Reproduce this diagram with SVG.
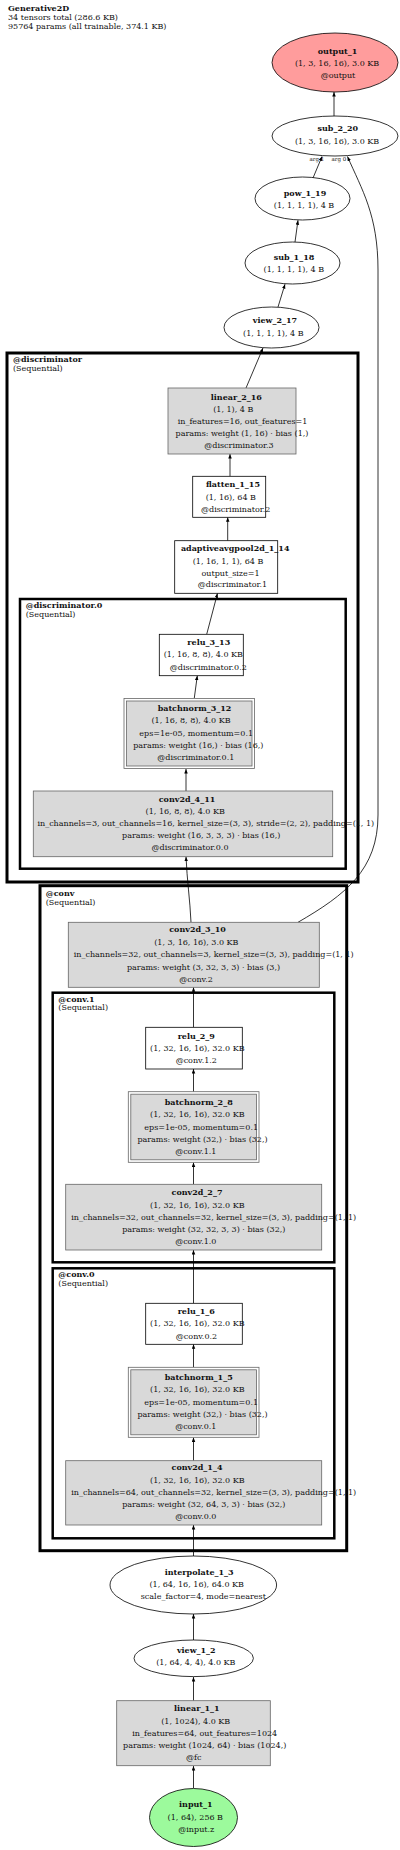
<svg xmlns="http://www.w3.org/2000/svg" width="400" height="1850" viewBox="0 0 400 1850">
<defs>
<marker id="ah" markerWidth="5" markerHeight="4" refX="4.5" refY="1.75" orient="auto" markerUnits="userSpaceOnUse">
<path d="M0,0 L4.5,1.75 L0,3.5 z" fill="#000"/>
</marker>
<style>
text{font-family:"DejaVu Serif","Liberation Serif",serif;font-size:8px;fill:#111;text-anchor:middle}
.b{font-weight:bold}
.l{text-anchor:start}
.arg{font-size:5.5px;text-anchor:start}
.clu{fill:none;stroke:#000}
.g{fill:#d9d9d9;stroke:#666;stroke-width:0.8}
.w{fill:#fff;stroke:#000;stroke-width:0.8}
.e{fill:#fff;stroke:#000;stroke-width:0.8}
.c path,.c line{stroke:#000;stroke-width:0.8;fill:none;marker-end:url(#ah)}
</style>
</defs>
<rect width="400" height="1850" fill="#fff"/>
<g id="title">
<text class="b l" x="8" y="11">Generative2D</text>
<text class="l" x="8" y="20">34 tensors total (286.6 KB)</text>
<text class="l" x="8" y="29">95764 params (all trainable, 374.1 KB)</text>
</g>
<g id="cluster_discriminator">
<rect class="clu" x="7" y="353" width="351" height="529" stroke-width="3"/>
<text class="b l" x="13" y="362">@discriminator</text>
<text class="l" x="13" y="370.5">(Sequential)</text>
</g>
<g id="cluster_discriminator0">
<rect class="clu" x="20" y="599" width="325.7" height="269.7" stroke-width="2.5"/>
<text class="b l" x="25.7" y="608">@discriminator.0</text>
<text class="l" x="25.7" y="617">(Sequential)</text>
</g>
<g id="cluster_conv">
<rect class="clu" x="40" y="885.7" width="306.7" height="665" stroke-width="3"/>
<text class="b l" x="45.7" y="895.5">@conv</text>
<text class="l" x="45.7" y="904.5">(Sequential)</text>
</g>
<g id="cluster_conv1">
<rect class="clu" x="52.7" y="992.7" width="281.6" height="269.6" stroke-width="2.5"/>
<text class="b l" x="58.3" y="1001.5">@conv.1</text>
<text class="l" x="58.3" y="1010">(Sequential)</text>
</g>
<g id="cluster_conv0">
<rect class="clu" x="52.7" y="1268.3" width="281.6" height="270" stroke-width="2.5"/>
<text class="b l" x="58.3" y="1276.5">@conv.0</text>
<text class="l" x="58.3" y="1285.5">(Sequential)</text>
</g>
<g id="edges" class="c">
<line x1="193.5" y1="1788" x2="193.5" y2="1766"/>
<line x1="193.5" y1="1700.7" x2="193.5" y2="1677"/>
<line x1="193.5" y1="1640" x2="193.5" y2="1614"/>
<line x1="193.5" y1="1556" x2="193.5" y2="1525"/>
<line x1="193.5" y1="1460.7" x2="193.5" y2="1437.5"/>
<line x1="193.5" y1="1367.3" x2="193.5" y2="1344.3"/>
<line x1="193.5" y1="1303.3" x2="193.5" y2="1250"/>
<line x1="193.5" y1="1184.3" x2="193.5" y2="1162.5"/>
<line x1="193.5" y1="1091.7" x2="193.5" y2="1069"/>
<line x1="193.5" y1="1027.3" x2="193.5" y2="987.3"/>
<path d="M191,922.3 C190,900 187,880 186,856.7"/>
<line x1="186" y1="791" x2="186" y2="769"/>
<line x1="194.3" y1="698" x2="197.3" y2="675.7"/>
<line x1="206.7" y1="634.3" x2="217.5" y2="593.3"/>
<line x1="227.7" y1="540.7" x2="227.7" y2="517.3"/>
<line x1="230" y1="476.3" x2="230" y2="454"/>
<line x1="246" y1="388" x2="263" y2="348"/>
<line x1="278" y1="307" x2="285" y2="284.2"/>
<line x1="295" y1="242" x2="298" y2="220.2"/>
<line x1="313" y1="178" x2="322" y2="156.5"/>
<path d="M298,922.3 C345,895 378,870 378,815 L378,270 C378,215 362,190 347.5,156.5"/>
<line x1="334" y1="116" x2="334" y2="92"/>
<text class="arg" x="309.5" y="161">arg 1</text>
<text class="arg" x="331.5" y="161">arg 0</text>
</g>
<g id="output_1">
<ellipse cx="335" cy="62.5" rx="63" ry="29.5" fill="#ff9c9c" stroke="#000" stroke-width="0.8"/>
<text class="b" x="337.5" y="53.5">output_1</text>
<text x="337" y="66">(1, 3, 16, 16), 3.0 KB</text>
<text x="338" y="78">@output</text>
</g>
<g id="sub_2_20">
<ellipse class="e" cx="335" cy="136" rx="63" ry="20"/>
<text class="b" x="337.8" y="131">sub_2_20</text>
<text x="337" y="144">(1, 3, 16, 16), 3.0 KB</text>
</g>
<g id="pow_1_19">
<ellipse class="e" cx="302.5" cy="198.5" rx="47.5" ry="21.5"/>
<text class="b" x="305" y="196">pow_1_19</text>
<text x="304" y="208">(1, 1, 1, 1), 4 B</text>
</g>
<g id="sub_1_18">
<ellipse class="e" cx="292.5" cy="263" rx="47.5" ry="21"/>
<text class="b" x="294" y="259.5">sub_1_18</text>
<text x="293.8" y="272">(1, 1, 1, 1), 4 B</text>
</g>
<g id="view_2_17">
<ellipse class="e" cx="271.5" cy="327.5" rx="47.5" ry="20.5"/>
<text class="b" x="275" y="323">view_2_17</text>
<text x="273.3" y="336">(1, 1, 1, 1), 4 B</text>
</g>
<g id="linear_2_16">
<rect class="g" x="168" y="388" width="128" height="66"/>
<text class="b" x="236.3" y="399.5">linear_2_16</text>
<text x="233.3" y="412">(1, 1), 4 B</text>
<text x="242.5" y="424">in_features=16, out_features=1</text>
<text x="242" y="435.5">params: weight (1, 16) · bias (1,)</text>
<text x="239" y="448">@discriminator.3</text>
</g>
<g id="flatten_1_15">
<rect class="w" x="192.7" y="476.3" width="73" height="41"/>
<text class="b" x="233" y="487">flatten_1_15</text>
<text x="230.8" y="499.5">(1, 16), 64 B</text>
<text x="235.7" y="512">@discriminator.2</text>
</g>
<g id="adaptiveavgpool2d_1_14">
<rect class="w" x="174.7" y="540.7" width="103" height="52.6"/>
<text class="b" x="235.2" y="550.5">adaptiveavgpool2d_1_14</text>
<text x="228" y="563.5">(1, 16, 1, 1), 64 B</text>
<text x="230.5" y="575.5">output_size=1</text>
<text x="232.5" y="587">@discriminator.1</text>
</g>
<g id="relu_3_13">
<rect class="w" x="159.3" y="634.3" width="84" height="41.4"/>
<text class="b" x="208.8" y="644.5">relu_3_13</text>
<text x="203.3" y="657">(1, 16, 8, 8), 4.0 KB</text>
<text x="208.3" y="669.5">@discriminator.0.2</text>
</g>
<g id="batchnorm_3_12">
<rect x="124" y="698.5" width="130.5" height="70" fill="#fff" stroke="#666" stroke-width="0.8"/>
<rect class="g" x="126.5" y="701" width="125.5" height="65"/>
<text class="b" x="194.5" y="710.5">batchnorm_3_12</text>
<text x="191" y="723">(1, 16, 8, 8), 4.0 KB</text>
<text x="196.2" y="735.5">eps=1e-05, momentum=0.1</text>
<text x="198.3" y="748">params: weight (16,) · bias (16,)</text>
<text x="195.8" y="759.5">@discriminator.0.1</text>
</g>
<g id="conv2d_4_11">
<rect class="g" x="33.3" y="791" width="299.4" height="65.7"/>
<text class="b" x="187" y="802">conv2d_4_11</text>
<text x="185.2" y="814">(1, 16, 8, 8), 4.0 KB</text>
<text x="205.8" y="826">in_channels=3, out_channels=16, kernel_size=(3, 3), stride=(2, 2), padding=(1, 1)</text>
<text x="201.2" y="838">params: weight (16, 3, 3, 3) · bias (16,)</text>
<text x="190" y="850">@discriminator.0.0</text>
</g>
<g id="conv2d_3_10">
<rect class="g" x="68.3" y="922.3" width="251" height="65"/>
<text class="b" x="197.5" y="932">conv2d_3_10</text>
<text x="196.3" y="945">(1, 3, 16, 16), 3.0 KB</text>
<text x="213.7" y="957">in_channels=32, out_channels=3, kernel_size=(3, 3), padding=(1, 1)</text>
<text x="203.5" y="969.5">params: weight (3, 32, 3, 3) · bias (3,)</text>
<text x="196" y="982">@conv.2</text>
</g>
<g id="relu_2_9">
<rect class="w" x="145.7" y="1027.3" width="96.6" height="41.7"/>
<text class="b" x="196.3" y="1038.5">relu_2_9</text>
<text x="197.3" y="1051">(1, 32, 16, 16), 32.0 KB</text>
<text x="196.3" y="1063">@conv.1.2</text>
</g>
<g id="batchnorm_2_8">
<rect x="128.3" y="1091.7" width="130.7" height="70.6" fill="#fff" stroke="#666" stroke-width="0.8"/>
<rect class="g" x="130.8" y="1094.2" width="125.7" height="65.6"/>
<text class="b" x="198.7" y="1105">batchnorm_2_8</text>
<text x="197.3" y="1117">(1, 32, 16, 16), 32.0 KB</text>
<text x="201.2" y="1129.5">eps=1e-05, momentum=0.1</text>
<text x="202.5" y="1141.5">params: weight (32,) · bias (32,)</text>
<text x="195.8" y="1153.5">@conv.1.1</text>
</g>
<g id="conv2d_2_7">
<rect class="g" x="65.7" y="1184.3" width="256" height="65.7"/>
<text class="b" x="197" y="1195">conv2d_2_7</text>
<text x="197.3" y="1208">(1, 32, 16, 16), 32.0 KB</text>
<text x="213.7" y="1219.5">in_channels=32, out_channels=32, kernel_size=(3, 3), padding=(1, 1)</text>
<text x="203.8" y="1232">params: weight (32, 32, 3, 3) · bias (32,)</text>
<text x="195.8" y="1244">@conv.1.0</text>
</g>
<g id="relu_1_6">
<rect class="w" x="145.7" y="1303.3" width="96.6" height="41"/>
<text class="b" x="196.3" y="1314">relu_1_6</text>
<text x="197.3" y="1326">(1, 32, 16, 16), 32.0 KB</text>
<text x="196.5" y="1338.5">@conv.0.2</text>
</g>
<g id="batchnorm_1_5">
<rect x="128.3" y="1367.3" width="130.7" height="70" fill="#fff" stroke="#666" stroke-width="0.8"/>
<rect class="g" x="130.8" y="1369.8" width="125.7" height="65"/>
<text class="b" x="198.7" y="1380">batchnorm_1_5</text>
<text x="197.3" y="1392">(1, 32, 16, 16), 32.0 KB</text>
<text x="201.2" y="1404.5">eps=1e-05, momentum=0.1</text>
<text x="202.5" y="1417">params: weight (32,) · bias (32,)</text>
<text x="195.8" y="1429">@conv.0.1</text>
</g>
<g id="conv2d_1_4">
<rect class="g" x="65.7" y="1460.7" width="256" height="64.3"/>
<text class="b" x="197" y="1470">conv2d_1_4</text>
<text x="197.3" y="1483">(1, 32, 16, 16), 32.0 KB</text>
<text x="213.7" y="1495">in_channels=64, out_channels=32, kernel_size=(3, 3), padding=(1, 1)</text>
<text x="203.8" y="1507">params: weight (32, 64, 3, 3) · bias (32,)</text>
<text x="195.8" y="1519">@conv.0.0</text>
</g>
<g id="interpolate_1_3">
<ellipse class="e" cx="193.3" cy="1585" rx="83.3" ry="29"/>
<text class="b" x="199.2" y="1574.5">interpolate_1_3</text>
<text x="196.7" y="1587">(1, 64, 16, 16), 64.0 KB</text>
<text x="203.3" y="1599">scale_factor=4, mode=nearest</text>
</g>
<g id="view_1_2">
<ellipse class="e" cx="193.7" cy="1658.3" rx="59.7" ry="18.3"/>
<text class="b" x="196.3" y="1653">view_1_2</text>
<text x="195.8" y="1665">(1, 64, 4, 4), 4.0 KB</text>
</g>
<g id="linear_1_1">
<rect class="g" x="116.7" y="1700.7" width="153.6" height="65"/>
<text class="b" x="196.8" y="1711">linear_1_1</text>
<text x="195.7" y="1723.5">(1, 1024), 4.0 KB</text>
<text x="204.7" y="1735.5">in_features=64, out_features=1024</text>
<text x="204.7" y="1747.5">params: weight (1024, 64) · bias (1024,)</text>
<text x="193.8" y="1759.5">@fc</text>
</g>
<g id="input_1">
<ellipse cx="193.5" cy="1817.5" rx="44" ry="29" fill="#9cfa9c" stroke="#000" stroke-width="0.8"/>
<text class="b" x="195.8" y="1807">input_1</text>
<text x="195.3" y="1819.5">(1, 64), 256 B</text>
<text x="196.3" y="1832">@input.z</text>
</g>
</svg>
